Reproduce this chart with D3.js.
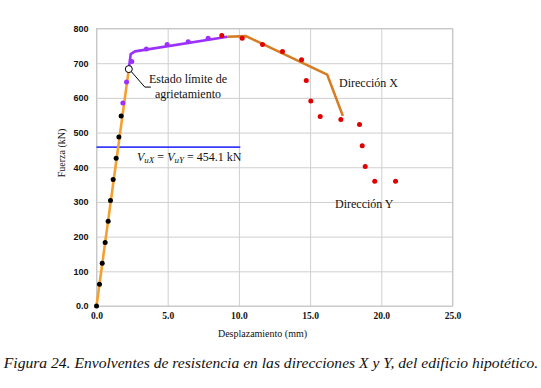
<!DOCTYPE html>
<html>
<head>
<meta charset="utf-8">
<script src="https://cdn.jsdelivr.net/npm/d3@7"></script>
<style>
  body { margin: 0; background: #fff; }
  svg text { fill: #111; }
</style>
</head>
<body>
<svg id="chart" width="541" height="388"></svg>
<script>
// Dirección Y data points, by stage (mm, kN)
const yElastic = [[0, 0], [0.21, 63], [0.4, 123], [0.61, 183], [0.82, 244], [0.98, 304], [1.17, 365], [1.38, 426], [1.57, 487], [1.73, 548]];
const yPlastic = [[1.85, 585], [2.11, 646], [2.48, 705], [3.5, 741], [4.96, 754], [6.44, 762], [7.84, 772]];
const yDegrade = [[8.8, 780], [10.23, 772], [11.66, 754], [13.06, 734], [14.4, 710], [14.73, 650], [15.05, 591], [15.71, 546],
  [17.16, 538], [18.47, 523], [18.66, 462], [18.87, 402], [19.54, 360], [21.0, 360]];
// Dirección X envelope
const xElasticLine = [[0, 0], [2.27, 683]];
const xPlasticLine = [[2.27, 683], [2.4, 726], [2.7, 734], [9.2, 776]];
const xDegradeLine = [[9.2, 776], [10.5, 778], [16.2, 667], [17.3, 548]];
const crackPoint = [2.27, 683];
const shearLimit = 454.1;
const shearSpan = [0, 10.1];
const xTicks = [0, 5, 10, 15, 20, 25];
const yTicks = [0, 100, 200, 300, 400, 500, 600, 700, 800];

const margin = { top: 28.5, left: 96.5, right: 88.5, bottom: 82 };
const svg = d3.select("#chart");
const width = 541 - margin.left - margin.right;
const height = 388 - margin.top - margin.bottom;
const g = svg.append("g").attr("transform", `translate(${margin.left},${margin.top})`);

const x = d3.scaleLinear().domain([0, 25]).range([0, width]);
const y = d3.scaleLinear().domain([0, 800]).range([height, 0]);

// grid
g.append("g")
  .call(d3.axisLeft(y).tickValues(yTicks).tickSize(-width).tickFormat(""))
  .call((s) => s.select(".domain").remove())
  .selectAll("line").attr("stroke", "#cfcfcf");
g.append("g")
  .attr("transform", `translate(0,${height})`)
  .call(d3.axisBottom(x).tickValues(xTicks).tickSize(-height).tickFormat(""))
  .call((s) => s.select(".domain").remove())
  .selectAll("line").attr("stroke", "#cfcfcf");
g.append("rect").attr("width", width).attr("height", height)
  .attr("fill", "none").attr("stroke", "#c8c8c8");

// tick labels
const yAxis = g.append("g")
  .call(d3.axisLeft(y).tickValues(yTicks).tickSize(0).tickPadding(8)
    .tickFormat((d) => (d === 0 ? "0.0" : d3.format("d")(d))));
yAxis.select(".domain").remove();
yAxis.selectAll("text").attr("font-family", "Liberation Sans, Arial, sans-serif")
  .attr("font-size", 9).attr("font-weight", "bold").attr("fill", "#222");

const xAxis = g.append("g").attr("transform", `translate(0,${height})`)
  .call(d3.axisBottom(x).tickValues(xTicks).tickSize(0).tickPadding(6).tickFormat(d3.format(".1f")));
xAxis.select(".domain").remove();
xAxis.selectAll("text").attr("font-family", "Liberation Serif, Times New Roman, serif")
  .attr("font-size", 9.5).attr("font-weight", "bold").attr("fill", "#222");

const serif = "Liberation Serif, Times New Roman, serif";

// axis titles
svg.append("text").attr("x", 262.5).attr("y", 337).attr("text-anchor", "middle")
  .attr("font-family", serif).attr("font-size", 10)
  .text("Desplazamiento (mm)");
svg.append("text").attr("transform", "translate(65,153) rotate(-90)").attr("text-anchor", "middle")
  .attr("font-family", serif).attr("font-size", 10)
  .text("Fuerza (kN)");

const line = d3.line().x((d) => x(d[0])).y((d) => y(d[1]));

// shear capacity line
g.append("line")
  .attr("x1", x(shearSpan[0])).attr("x2", x(shearSpan[1]))
  .attr("y1", y(shearLimit + 4)).attr("y2", y(shearLimit + 4))
  .attr("stroke", "#3a3aff").attr("stroke-width", 1.6);

// envelope lines
g.append("path").datum(xElasticLine).attr("d", line)
  .attr("fill", "none").attr("stroke", "#f4a030").attr("stroke-width", 2.6);
g.append("path").datum(xDegradeLine).attr("d", line)
  .attr("fill", "none").attr("stroke", "#d67c22").attr("stroke-width", 2.6).attr("stroke-linejoin", "round");
g.append("path").datum(xPlasticLine).attr("d", line)
  .attr("fill", "none").attr("stroke", "#9b30ff").attr("stroke-width", 2.6).attr("stroke-linejoin", "round");

// points
const dots = (data, color) => g.append("g").selectAll("circle").data(data).join("circle")
  .attr("cx", (d) => x(d[0])).attr("cy", (d) => y(d[1])).attr("r", 2.5).attr("fill", color);
dots(yElastic, "#000");
dots(yPlastic, "#9b30ff");
dots(yDegrade, "#e00000");

// cracking limit state marker + callout
const cx = x(crackPoint[0]), cy = y(crackPoint[1]);
g.append("polyline")
  .attr("points", `${cx + 2.5},${cy + 2.5} ${cx + 16},${cy + 18} ${cx + 22},${cy + 18}`)
  .attr("fill", "none").attr("stroke", "#000").attr("stroke-width", 1);
g.append("circle").attr("cx", cx).attr("cy", cy).attr("r", 3.5)
  .attr("fill", "#fff").attr("stroke", "#000").attr("stroke-width", 1);

svg.append("text").attr("x", 149).attr("y", 83).attr("font-family", serif).attr("font-size", 12)
  .text("Estado límite de");
svg.append("text").attr("x", 155).attr("y", 98).attr("font-family", serif).attr("font-size", 12)
  .text("agrietamiento");
svg.append("text").attr("x", 339).attr("y", 87).attr("font-family", serif).attr("font-size", 12)
  .text("Dirección X");
svg.append("text").attr("x", 335).attr("y", 208).attr("font-family", serif).attr("font-size", 12)
  .text("Dirección Y");

// V_uX = V_uY = 454.1 kN
const vt = svg.append("text").attr("x", 137).attr("y", 161).attr("font-family", serif).attr("font-size", 12);
vt.append("tspan").attr("font-style", "italic").text("V");
vt.append("tspan").attr("font-style", "italic").attr("font-size", 9).attr("dy", 2).text("uX");
vt.append("tspan").attr("dy", -2).text(" = ");
vt.append("tspan").attr("font-style", "italic").text("V");
vt.append("tspan").attr("font-style", "italic").attr("font-size", 9).attr("dy", 2).text("uY");
vt.append("tspan").attr("dy", -2).text(" = 454.1 kN");

// caption
svg.append("text").attr("x", 271).attr("y", 368).attr("text-anchor", "middle")
  .attr("font-family", serif).attr("font-style", "italic").attr("font-size", 15.6)
  .text("Figura 24. Envolventes de resistencia en las direcciones X y Y, del edificio hipotético.");
</script>
</body>
</html>
